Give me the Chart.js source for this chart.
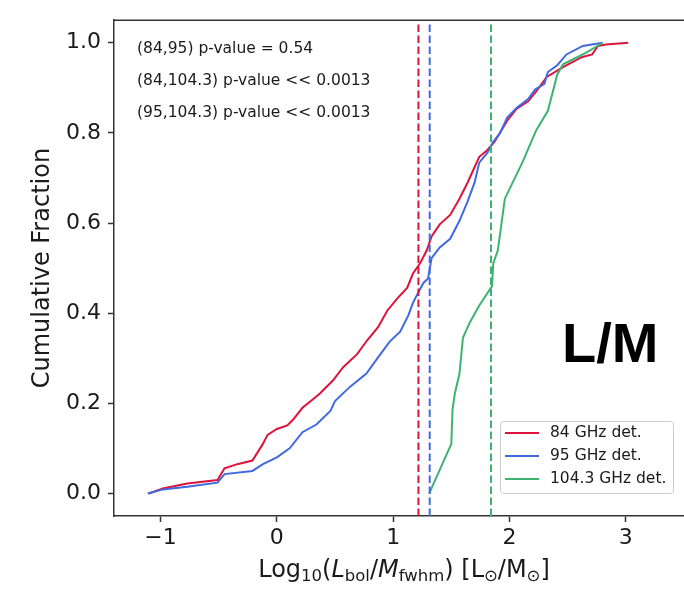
<!DOCTYPE html>
<html>
<head>
<meta charset="utf-8">
<script src="https://cdn.jsdelivr.net/npm/chart.js@4.4.1/dist/chart.umd.min.js"></script>
<style>
  html, body { margin: 0; padding: 0; background: #fff; }
</style>
</head>
<body>
<canvas id="cdf" width="684" height="589"></canvas>
<script>
// cumulative distributions of log10(Lbol/Mfwhm) for the three detection samples

const redX = [-1.10, -0.98, -0.77, -0.51, -0.45, -0.34, -0.21, -0.12, -0.08, 0.00, 0.09, 0.14, 0.22, 0.30, 0.37,
    0.48, 0.57, 0.69, 0.78, 0.87, 0.95, 1.04, 1.12, 1.17, 1.23, 1.29, 1.33, 1.40, 1.49, 1.57, 1.64, 1.74, 1.81,
    1.87, 1.98, 2.06, 2.16, 2.23, 2.32, 2.46, 2.62, 2.71, 2.76, 2.83, 3.02];
const redY = [0.000, 0.011, 0.022, 0.030, 0.056, 0.065, 0.073, 0.110, 0.130, 0.143, 0.151, 0.164, 0.190, 0.207, 0.222,
    0.250, 0.280, 0.309, 0.341, 0.369, 0.406, 0.434, 0.456, 0.488, 0.510, 0.540, 0.570, 0.597, 0.618, 0.654, 0.690, 0.747, 0.762,
    0.780, 0.827, 0.853, 0.870, 0.892, 0.924, 0.946, 0.968, 0.974, 0.993, 0.996, 1.000];

const blueX = [-1.11, -0.98, -0.77, -0.51, -0.45, -0.21, -0.12, 0.00, 0.11, 0.22, 0.34, 0.46, 0.50, 0.63, 0.77,
    0.87, 0.97, 1.06, 1.13, 1.17, 1.20, 1.26, 1.30, 1.33, 1.40, 1.49, 1.57, 1.64, 1.70, 1.74, 1.81, 1.86, 1.92,
    1.98, 2.06, 2.16, 2.22, 2.30, 2.33, 2.41, 2.49, 2.63, 2.80];
const blueY = [0.000, 0.009, 0.015, 0.024, 0.043, 0.050, 0.065, 0.080, 0.100, 0.136, 0.153, 0.183, 0.205, 0.237, 0.266,
    0.302, 0.337, 0.359, 0.395, 0.423, 0.438, 0.467, 0.477, 0.522, 0.546, 0.565, 0.605, 0.648, 0.690, 0.734, 0.756, 0.780, 0.800,
    0.834, 0.855, 0.875, 0.896, 0.909, 0.935, 0.950, 0.974, 0.993, 1.000];

const greenX = [1.31, 1.50, 1.51, 1.53, 1.57, 1.60, 1.66, 1.74, 1.85, 1.86, 1.90, 1.96, 2.11, 2.23, 2.33, 2.41, 2.46, 2.66, 2.80];
const greenY = [0.000, 0.110, 0.186, 0.222, 0.266, 0.346, 0.380, 0.417, 0.460, 0.510, 0.540, 0.654, 0.734, 0.806, 0.849, 0.929, 0.952, 0.978, 1.000];

// medians (dashed verticals)
const medians = [1.217, 1.314, 1.841];

const seriesLabels = ['84 GHz det.', '95 GHz det.', '104.3 GHz det.'];
const seriesColors = ['#dc143c', '#4169e1', '#3cb371'];

const xLimits = [-1.40, 3.50];
const yLimits = [-0.05, 1.05];
const xTicks = [-1, 0, 1, 2, 3];
const yTicks = [0.0, 0.2, 0.4, 0.6, 0.8, 1.0];

const pTexts = ['(84,95) p-value = 0.54', '(84,104.3) p-value << 0.0013', '(95,104.3) p-value << 0.0013'];
const panelTag = 'L/M';

const FONT = "'DejaVu Sans', sans-serif";
const AXIS = '#333';
const INK = '#1a1a1a';

function pts(xs, ys) {
    return xs.map((x, i) => ({ x: x, y: ys[i] }));
}

function curve(i, xs, ys) {
    return {
        label: seriesLabels[i],
        data: pts(xs, ys),
        borderColor: seriesColors[i],
        borderWidth: 2,
        pointRadius: 0,
        tension: 0,
        order: 6 - i
    };
}

function vline(i) {
    return {
        label: 'median ' + seriesLabels[i],
        data: [{ x: medians[i], y: yLimits[0] }, { x: medians[i], y: yLimits[1] }],
        borderColor: seriesColors[i],
        borderWidth: 2,
        borderDash: [7.5, 3.5],
        pointRadius: 0,
        order: 3 - i
    };
}

// frame top, annotations, legend, x title with subscripts
const extras = {
    id: 'extras',
    afterDraw(chart) {
        const ctx = chart.ctx;
        const a = chart.chartArea;
        ctx.save();

        ctx.strokeStyle = AXIS;
        ctx.lineWidth = 1.5;
        ctx.beginPath();
        ctx.moveTo(a.left, a.top);
        ctx.lineTo(a.right, a.top);
        ctx.stroke();

        ctx.fillStyle = INK;
        ctx.font = '15.5px ' + FONT;
        ctx.textAlign = 'left';
        ctx.textBaseline = 'middle';
        pTexts.forEach((t, i) => ctx.fillText(t, 137, 49 + i * 32));

        ctx.font = 'bold 56px "Liberation Sans", Arial, sans-serif';
        ctx.textBaseline = 'alphabetic';
        ctx.fillStyle = '#000';
        ctx.fillText(panelTag, 562, 362);

        // legend
        const bx = 500, by = 421, bw = 173, bh = 72;
        ctx.fillStyle = 'rgba(255,255,255,0.8)';
        ctx.strokeStyle = '#cccccc';
        ctx.lineWidth = 1;
        ctx.beginPath();
        ctx.roundRect(bx + 0.5, by + 0.5, bw, bh, 3);
        ctx.fill();
        ctx.stroke();
        ctx.font = '15.5px ' + FONT;
        ctx.textBaseline = 'middle';
        seriesLabels.forEach((lab, i) => {
            const yy = 433 + i * 23;
            ctx.strokeStyle = seriesColors[i];
            ctx.lineWidth = 2;
            ctx.beginPath();
            ctx.moveTo(505, yy);
            ctx.lineTo(539, yy);
            ctx.stroke();
            ctx.fillStyle = INK;
            ctx.fillText(lab, 550, yy);
        });

        // x axis title
        const size = 24, sub = 16.5;
        const parts = [
            { t: 'Log' }, { t: '10', s: 1 }, { t: '(' }, { t: 'L', i: 1 }, { t: 'bol', s: 1 }, { t: '/' },
            { t: 'M', i: 1 }, { t: 'fwhm', s: 1 }, { t: ') [L' }, { t: '\u2299', s: 1 }, { t: '/M' },
            { t: '\u2299', s: 1 }, { t: ']' }
        ];
        const fontOf = p => (p.i ? 'italic ' : '') + (p.s ? sub : size) + 'px ' + FONT;
        let total = 0;
        parts.forEach(p => { ctx.font = fontOf(p); p.w = ctx.measureText(p.t).width; total += p.w; });
        let x = 404 - total / 2;
        const base = 577;
        ctx.fillStyle = INK;
        ctx.textBaseline = 'alphabetic';
        parts.forEach(p => {
            ctx.font = fontOf(p);
            ctx.fillText(p.t, x, p.s ? base + 4 : base);
            x += p.w;
        });
        ctx.restore();
    }
};

const ctx = document.getElementById('cdf').getContext('2d');
const chart = new Chart(ctx, {
    type: 'line',
    data: {
        datasets: [
            curve(0, redX, redY),
            curve(1, blueX, blueY),
            curve(2, greenX, greenY),
            vline(0), vline(1), vline(2)
        ]
    },
    options: {
        responsive: false,
        animation: false,
        devicePixelRatio: 1,
        layout: { padding: { top: 7, right: 0, bottom: 0, left: 0 } },
        plugins: {
            legend: { display: false },
            tooltip: { enabled: false }
        },
        scales: {
            x: {
                type: 'linear',
                min: xLimits[0],
                max: xLimits[1],
                afterBuildTicks: s => { s.ticks = xTicks.map(v => ({ value: v })); },
                afterFit: s => { s.height = 73; },
                grid: { drawOnChartArea: false, drawTicks: true, tickLength: 6, tickWidth: 1.5, tickColor: AXIS },
                border: { display: true, color: AXIS, width: 1.5 },
                ticks: {
                    font: { family: FONT, size: 22 },
                    color: INK,
                    padding: 3,
                    maxRotation: 0,
                    autoSkip: false,
                    callback: v => v < 0 ? '\u2212' + Math.abs(v) : String(v)
                }
            },
            y: {
                type: 'linear',
                min: yLimits[0],
                max: yLimits[1],
                afterBuildTicks: s => { s.ticks = yTicks.map(v => ({ value: v })); },
                afterFit: s => { s.width = 114; },
                grid: { drawOnChartArea: false, drawTicks: true, tickLength: 6, tickWidth: 1.5, tickColor: AXIS },
                border: { display: true, color: AXIS, width: 1.5 },
                ticks: {
                    font: { family: FONT, size: 22 },
                    color: INK,
                    padding: 7,
                    autoSkip: false,
                    callback: v => v.toFixed(1)
                },
                title: {
                    display: true,
                    text: 'Cumulative Fraction',
                    font: { family: FONT, size: 24 },
                    color: INK,
                    padding: { top: 28, bottom: 0 }
                }
            }
        }
    },
    plugins: [extras]
});
</script>
</body>
</html>
